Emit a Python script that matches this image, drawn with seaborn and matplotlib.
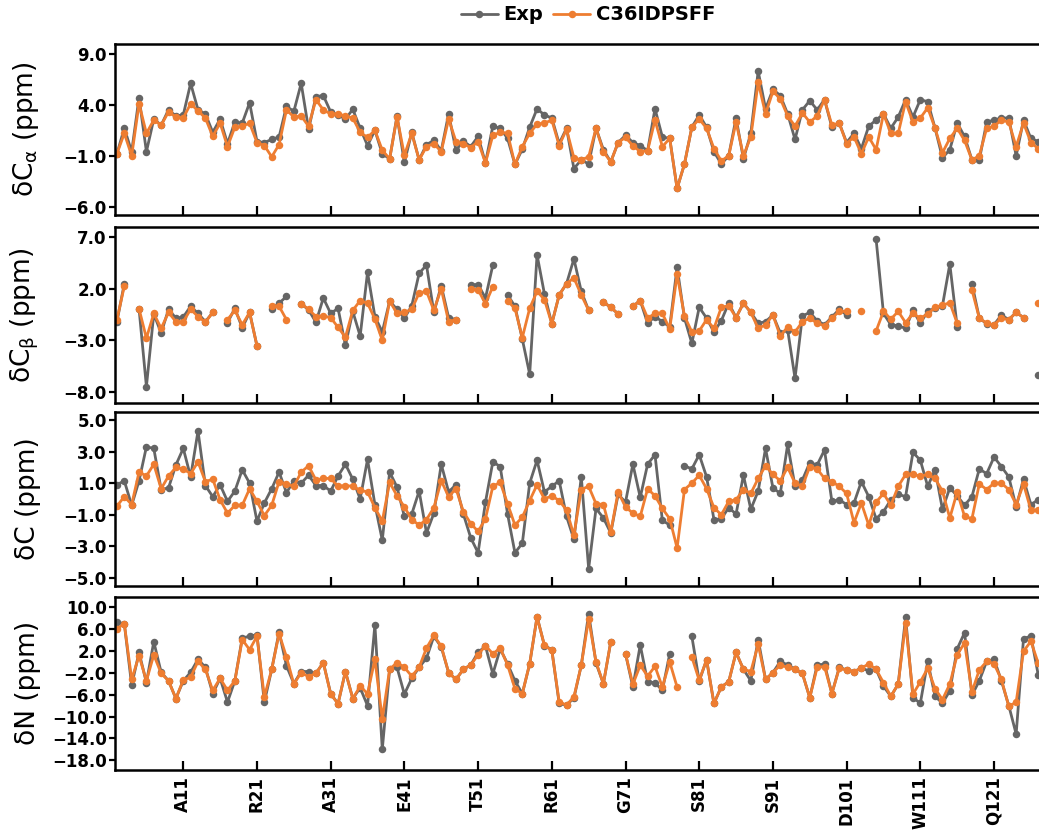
import numpy as np
import pandas as pd
import matplotlib
matplotlib.use("Agg")
import matplotlib.pyplot as plt
from matplotlib.lines import Line2D
from matplotlib.ticker import FuncFormatter
import seaborn as sns

nan = np.nan

# Residue numbering (residues 2..127 are shown)
residues = np.arange(2, 128)

tick_res = [11, 21, 31, 41, 51, 61, 71, 81, 91, 101, 111, 121]
tick_names = ["A11", "R21", "A31", "E41", "T51", "R61", "G71", "S81", "S91", "D101", "W111", "Q121"]

# Secondary chemical shifts, ppm (Exp = experiment, sim = C36IDPSFF)
ca_exp = [-0.8, 1.7, -0.6, 4.7, -0.6, 2.6, 2.0, 3.5, 2.9, 3.0,
          6.1, 3.5, 3.1, 1.3, 2.6, 0.2, 2.3, 2.2, 4.2, 0.4,
          0.3, 0.6, 0.85, 3.85, 3.35, 6.1, 1.6, 4.8, 4.9, 3.3,
          3.0, 2.6, 3.55, 1.7, 0.0, 1.5, -0.8, -1.3, 2.9, -1.65,
          1.3, -1.4, 0.1, 0.5, -0.5, 3.1, -0.45, 0.45, -0.1, 0.9,
          -1.7, 1.9, 1.7, 0.7, -1.85, -0.35, 1.8, 3.6, 3.0, 2.7,
          0.2, 1.7, -2.25, -1.4, -1.8, 1.7, -0.4, -1.6, 0.3, 1.0,
          0.3, 0.0, -0.5, 3.6, 0.85, 0.7, -4.2, -1.8, 1.8, 3.0,
          1.8, -0.6, -1.8, -1.0, 2.7, -1.3, 1.2, 7.3, 3.6, 5.5,
          4.9, 3.1, 0.6, 3.5, 4.4, 3.5, 4.5, 1.8, 2.2, 0.3,
          1.2, -0.3, 1.9, 2.5, 3.1, 1.7, 2.8, 4.5, 2.8, 4.5,
          4.3, 1.7, -1.2, -0.4, 2.2, 0.9, -1.4, -1.4, 2.3, 2.5,
          2.7, 2.7, -1.0, 2.5, 0.7, 0.4]
ca_sim = [-0.8, 1.2, -1.0, 4.1, 1.2, 2.5, 2.0, 3.3, 2.8, 2.7,
          4.1, 3.4, 2.7, 0.9, 2.2, -0.1, 1.8, 1.9, 2.2, 0.3,
          0.0, -1.1, 0.1, 3.5, 2.8, 2.9, 1.9, 4.5, 3.5, 3.1,
          3.1, 2.9, 2.7, 1.3, 0.8, 1.5, -0.45, -1.3, 2.8, -0.95,
          1.2, -1.4, -0.1, 0.2, -0.6, 2.6, 0.4, 0.2, -0.2, 0.4,
          -1.7, 1.0, 1.3, 1.2, -1.85, -0.1, 1.2, 2.1, 2.2, 2.5,
          0.0, 1.6, -1.2, -1.4, -1.1, 1.7, -0.6, -1.6, 0.3, 0.8,
          0.0, -0.6, -0.5, 2.5, -0.1, 0.7, -4.2, -1.8, 1.8, 2.6,
          1.7, -0.3, -1.5, -1.0, 2.3, -1.0, 0.85, 6.2, 3.1, 5.3,
          4.6, 2.9, 1.9, 3.2, 2.3, 2.9, 4.5, 2.0, 2.2, 0.2,
          0.85, -0.8, 0.85, -0.4, 3.1, 1.2, 1.2, 4.3, 2.3, 2.7,
          3.7, 1.7, -0.7, 0.7, 1.7, 0.5, -1.4, -1.0, 1.7, 1.9,
          2.5, 2.3, -0.1, 2.2, 0.3, -0.3]

cb_exp = [-1.2, 2.5, nan, 0.05, -7.5, -0.45, -2.3, 0.0, -0.85, -0.75,
          0.3, -0.4, -1.2, -0.3, nan, -1.3, 0.1, -1.8, -0.3, -3.55,
          nan, 0.05, 0.6, 1.25, nan, 0.55, -0.05, -1.25, 1.1, -0.4,
          0.1, -3.5, -0.2, -2.6, 3.6, -0.7, -2.2, 0.8, 0.0, -0.85,
          0.35, 3.5, 4.3, -0.3, 2.3, -0.8, -1.0, nan, 2.4, 2.4,
          1.1, 4.3, nan, 1.4, 0.3, -2.9, -6.3, 5.3, 1.5, -1.4,
          1.4, 2.5, 4.9, 1.75, -0.1, nan, 0.7, 0.2, -0.45, nan,
          0.3, 0.85, -1.35, -0.7, -1.2, -1.7, 4.1, -0.85, -3.3, 0.2,
          -0.85, -2.2, -1.1, 0.6, -0.8, 0.6, -0.3, -1.35, -1.2, -0.55,
          -2.3, -2.0, -6.7, -0.65, -0.3, -1.1, -1.5, -0.75, 0.0, -0.55,
          nan, nan, nan, 6.8, -0.4, -1.5, -1.6, -1.85, -0.1, -1.35,
          -0.2, 0.1, 0.35, 4.4, -1.7, nan, 2.5, -0.85, -1.4, -1.5,
          -0.55, -1.0, -0.3, -0.8, nan, -6.4]
cb_sim = [-1.0, 2.25, nan, 0.05, -2.8, -0.4, -1.85, -0.3, -1.2, -1.2,
          0.0, -0.7, -1.25, -0.3, nan, -1.0, -0.1, -1.5, -0.3, -3.55,
          nan, 0.3, 0.3, -1.0, nan, 0.55, 0.0, -0.7, -0.65, -0.8,
          -1.75, -2.7, -0.1, 0.85, 0.6, -0.95, -3.0, 0.8, -0.4, -0.3,
          0.0, 1.6, 1.75, -0.1, 2.0, -1.2, -1.0, nan, 2.0, 1.9,
          0.55, 2.2, nan, 0.8, 0.1, -2.75, 0.1, 1.75, 0.95, -1.4,
          1.4, 2.5, 3.05, 1.4, -0.1, nan, 0.7, 0.2, -0.45, nan,
          0.3, 0.85, -0.85, -0.4, -0.4, -1.9, 3.4, -0.65, -2.2, -2.1,
          -1.0, -1.85, 0.2, 0.35, -0.8, 0.6, -0.3, -1.85, -1.5, -0.55,
          -2.6, -1.7, -2.2, -1.2, -0.85, -1.35, -1.6, -0.85, -0.2, -0.2,
          nan, -0.2, nan, -2.1, -0.2, -0.95, -0.2, -1.3, -0.4, -0.85,
          -0.45, 0.2, 0.4, 0.65, -1.35, nan, 1.9, -0.85, -1.35, -1.5,
          -0.85, -1.0, -0.3, -0.8, nan, 0.6]

c_exp = [0.9, 1.15, -0.4, 1.15, 3.3, 3.2, 0.6, 0.7, 2.15, 3.2,
         1.4, 4.3, 0.85, 0.15, 0.9, -0.15, 0.5, 1.85, 1.0, -1.4,
         -0.25, 0.65, 1.7, 0.4, 1.15, 1.0, 1.5, 0.85, 0.85, 0.5,
         1.45, 2.2, 1.25, 0.0, 2.5, -0.35, -2.6, 1.7, 0.75, -1.1,
         -0.95, 0.5, -2.15, -0.9, 2.2, 0.45, 0.9, -0.95, -2.45, -3.4,
         -0.2, 2.35, 2.05, -0.95, -3.4, -2.8, 1.0, 2.45, 0.45, 0.8,
         1.15, -1.1, -2.55, 1.4, -4.4, -0.6, -1.2, -2.15, 0.3, -0.2,
         2.2, 0.1, 2.2, 2.8, -1.35, -1.65, nan, 2.1, 1.9, 2.8,
         1.4, -1.3, -1.25, -0.55, -0.95, 1.5, -0.65, 0.5, 3.2, 0.7,
         0.35, 3.45, 0.8, 1.2, 2.3, 2.15, 3.1, -0.15, -0.05, -0.35,
         -0.25, 1.1, 0.15, -1.25, -0.8, -0.05, 0.3, 0.15, 2.95, 2.45,
         0.8, 1.85, -0.65, 0.7, 0.2, -0.4, 0.15, 1.9, 1.6, 2.65,
         2.05, 1.4, -0.5, 1.25, -0.35, -0.05]
c_sim = [-0.45, 0.15, -0.35, 1.7, 1.45, 2.2, 0.65, 1.45, 2.0, 1.9,
         1.6, 2.35, 1.1, 1.25, -0.05, -0.9, -0.4, -0.4, 0.65, -0.15,
         -1.05, -0.4, 1.1, 0.95, 0.8, 1.7, 2.1, 1.2, 1.3, 1.3,
         0.8, 0.85, 0.8, 0.55, 0.45, -0.55, -1.4, 1.05, 0.2, -0.5,
         -1.3, -1.65, -1.3, -0.55, 1.15, 0.15, 0.65, -0.8, -1.55, -2.05,
         -1.25, 0.8, 1.05, -0.3, -1.65, -1.15, -0.1, 0.9, 0.0, 0.2,
         -0.1, -0.7, -2.3, 0.6, 0.8, -0.3, -0.35, -2.1, 0.45, -0.5,
         -0.9, -1.1, 0.65, 0.2, -0.6, -1.25, -3.1, 0.6, 1.0, 1.5,
         0.65, -0.55, -1.0, -0.15, -0.05, 0.6, 0.35, 1.3, 2.1, 1.55,
         1.15, 2.0, 1.0, 0.8, 2.05, 1.9, 1.3, 1.1, 0.8, 0.35,
         -1.5, -0.25, -1.65, -0.2, 0.35, -0.4, 0.8, 1.55, 1.55, 1.45,
         1.55, 1.3, 0.5, -1.2, 0.45, -1.1, -1.25, 0.95, 0.6, 1.0,
         1.0, 0.6, -0.35, 0.95, -0.7, -0.7]

n_exp = [7.3, 7.0, -4.25, 1.75, -3.8, 3.7, -1.9, -3.45, -6.7, -3.45,
         -1.9, 0.5, -1.0, -5.8, -3.0, -7.35, -3.45, 4.4, 4.7, 5.0,
         -7.35, -1.35, 5.5, -0.7, -3.95, -1.75, -1.75, -2.1, -0.1, -5.8,
         -7.65, -1.75, -6.7, -4.75, -8.0, 6.8, -16.0, -1.35, -1.0, -5.9,
         -3.0, -1.0, 0.7, 4.7, 2.75, -1.95, -3.2, -1.35, -0.55, 1.75,
         2.9, -2.2, 2.4, -0.35, -3.45, -5.8, -0.35, 8.3, 3.0, 2.25,
         -7.6, -7.9, -6.6, -0.6, 8.85, -0.2, -4.0, 3.7, nan, 1.5,
         -4.6, 3.1, -3.65, -3.8, -5.2, 1.5, nan, nan, 4.7, -3.5,
         0.4, -7.6, -4.55, -3.65, 1.75, -1.35, -3.45, 4.1, -3.2, -1.95,
         0.1, -0.55, -1.35, -2.1, -6.55, -0.55, -0.4, -5.8, -1.0, -1.45,
         -1.75, -1.15, -1.6, -1.35, -4.45, -6.3, -4.05, 8.15, -6.55, -7.55,
         0.1, -6.3, -7.55, -5.3, 2.4, 5.35, -6.1, -3.45, 0.1, 0.5,
         -3.45, -8.0, -13.2, 4.25, 4.75, -2.4]
n_sim = [6.1, 7.0, -3.2, 1.15, -3.45, 1.3, -2.1, -3.45, -6.7, -3.3,
         -2.8, 0.1, -1.35, -5.2, -3.0, -5.2, -3.45, 4.1, 2.25, 4.7,
         -6.4, -1.35, 5.2, 0.9, -4.05, -1.95, -2.7, -2.1, -0.1, -5.9,
         -7.65, -1.75, -6.7, -4.45, -5.8, 0.5, -10.45, -1.35, -0.1, -1.0,
         -2.6, -1.0, 2.55, 4.85, 2.9, -1.95, -3.2, -1.35, -0.55, 1.3,
         3.0, 1.5, 2.55, -0.55, -4.9, -5.8, -0.3, 8.2, 3.05, 2.1,
         -7.3, -7.9, -6.4, -0.6, 7.9, 0.0, -4.0, 3.7, nan, 1.5,
         -4.1, -0.6, -2.6, -0.8, -4.6, 0.0, -4.6, nan, 0.9, -3.35,
         0.4, -7.6, -4.55, -3.65, 1.75, -1.35, -1.75, 3.2, -3.2, -1.95,
         -0.55, -1.0, -1.35, -2.1, -6.55, -1.0, -0.85, -5.8, -1.15, -1.45,
         -1.75, -1.15, -0.35, -1.35, -3.8, -6.3, -4.05, 7.1, -5.9, -3.65,
         -1.15, -4.9, -6.9, -4.05, 1.3, 3.5, -5.5, -1.45, 0.1, -0.35,
         -3.2, -8.15, -7.35, 1.95, 3.8, -0.25]

panels = [
    ("ca", r"δC$_\mathregular{α}$ (ppm)", ca_exp, ca_sim, [9.0, 4.0, -1.0, -6.0], (-6.8, 10.0)),
    ("cb", r"δC$_\mathregular{β}$ (ppm)", cb_exp, cb_sim, [7.0, 2.0, -3.0, -8.0], (-9.1, 8.0)),
    ("c", "δC (ppm)", c_exp, c_sim, [5.0, 3.0, 1.0, -1.0, -3.0, -5.0], (-5.5, 5.5)),
    ("n", "δN (ppm)", n_exp, n_sim, [10.0, 6.0, 2.0, -2.0, -6.0, -10.0, -14.0, -18.0], (-19.7, 11.9)),
]

series_names = ["Exp", "C36IDPSFF"]
colors = {"Exp": "#656565", "C36IDPSFF": "#EE7D31"}

sns.set_theme(style="white")
plt.rcParams["font.family"] = ["DejaVu Sans"]
plt.rcParams["mathtext.fontset"] = "dejavusans"
for key in ["text.color", "axes.labelcolor", "xtick.color", "ytick.color"]:
    plt.rcParams[key] = "black"


def to_frame(values, name):
    """Long-form table; contiguous runs of measured residues become separate units."""
    v = np.asarray(values, dtype=float)
    valid = ~np.isnan(v)
    seg = np.cumsum(np.r_[True, valid[1:] != valid[:-1]])
    df = pd.DataFrame({"residue": residues, "shift": v, "segment": seg, "series": name})
    return df[valid]


ytick_fmt = FuncFormatter(lambda v, _: f"{v:.1f}".replace("-", "\u2212"))

fig = plt.figure(figsize=(10.39, 8.32), dpi=100)
W, H = 1039.0, 832.0
left = 114.5 / W
width = 1.0 - left
# (top, bottom) pixel rows of each panel frame
rows = [(43.5, 215.0), (227.0, 403.0), (412.0, 586.0), (597.0, 769.5)]

for i, (key, ylabel, exp_vals, sim_vals, yticks, ylim) in enumerate(panels):
    top, bottom = rows[i]
    ax = fig.add_axes([left, 1 - bottom / H, width, (bottom - top) / H])
    for name, vals in zip(series_names, [exp_vals, sim_vals]):
        df = to_frame(vals, name)
        sns.lineplot(data=df, x="residue", y="shift", units="segment", estimator=None,
                     color=colors[name], marker="o", markersize=5.4, markeredgewidth=0,
                     linewidth=2.0, sort=False, ax=ax, legend=False)
    ax.set_xlim(1.67, 127.1)
    ax.set_ylim(*ylim)
    ax.set_yticks(yticks)
    ax.yaxis.set_major_formatter(ytick_fmt)
    ax.set_xticks(tick_res)
    if i == len(panels) - 1:
        ax.set_xticklabels(tick_names, rotation=90, fontweight="bold", fontsize=12)
    else:
        ax.set_xticklabels([])
    ax.set_xlabel("")
    ax.set_ylabel(ylabel, fontsize=19, color="black")
    ax.yaxis.set_label_coords(-0.079, 0.5)
    for lab in ax.get_yticklabels():
        lab.set_fontweight("bold")
        lab.set_fontsize(12)
    ax.tick_params(axis="x", bottom=True, top=False, direction="in", length=6.5,
                   width=1.6, color="black", labelcolor="black", pad=5)
    ax.tick_params(axis="y", left=True, right=False, direction="out", length=4,
                   width=1.6, color="black", labelcolor="black", pad=1.5)
    for side in ["left", "top", "bottom"]:
        ax.spines[side].set_visible(True)
        ax.spines[side].set_linewidth(1.8)
        ax.spines[side].set_color("black")
    ax.spines["right"].set_visible(False)
    ax.grid(False)

handles = [Line2D([], [], color=colors[n], marker="o", markersize=5.4, markeredgewidth=0,
                  linewidth=2.0) for n in series_names]
fig.legend(handles, series_names, loc="center", bbox_to_anchor=(0.566, 0.982), ncol=2,
           frameon=False, prop={"weight": "bold", "size": 14}, handlelength=1.9,
           handletextpad=0.3, columnspacing=0.5, borderaxespad=0, labelcolor="black")

fig.savefig("out.png", dpi=100)
